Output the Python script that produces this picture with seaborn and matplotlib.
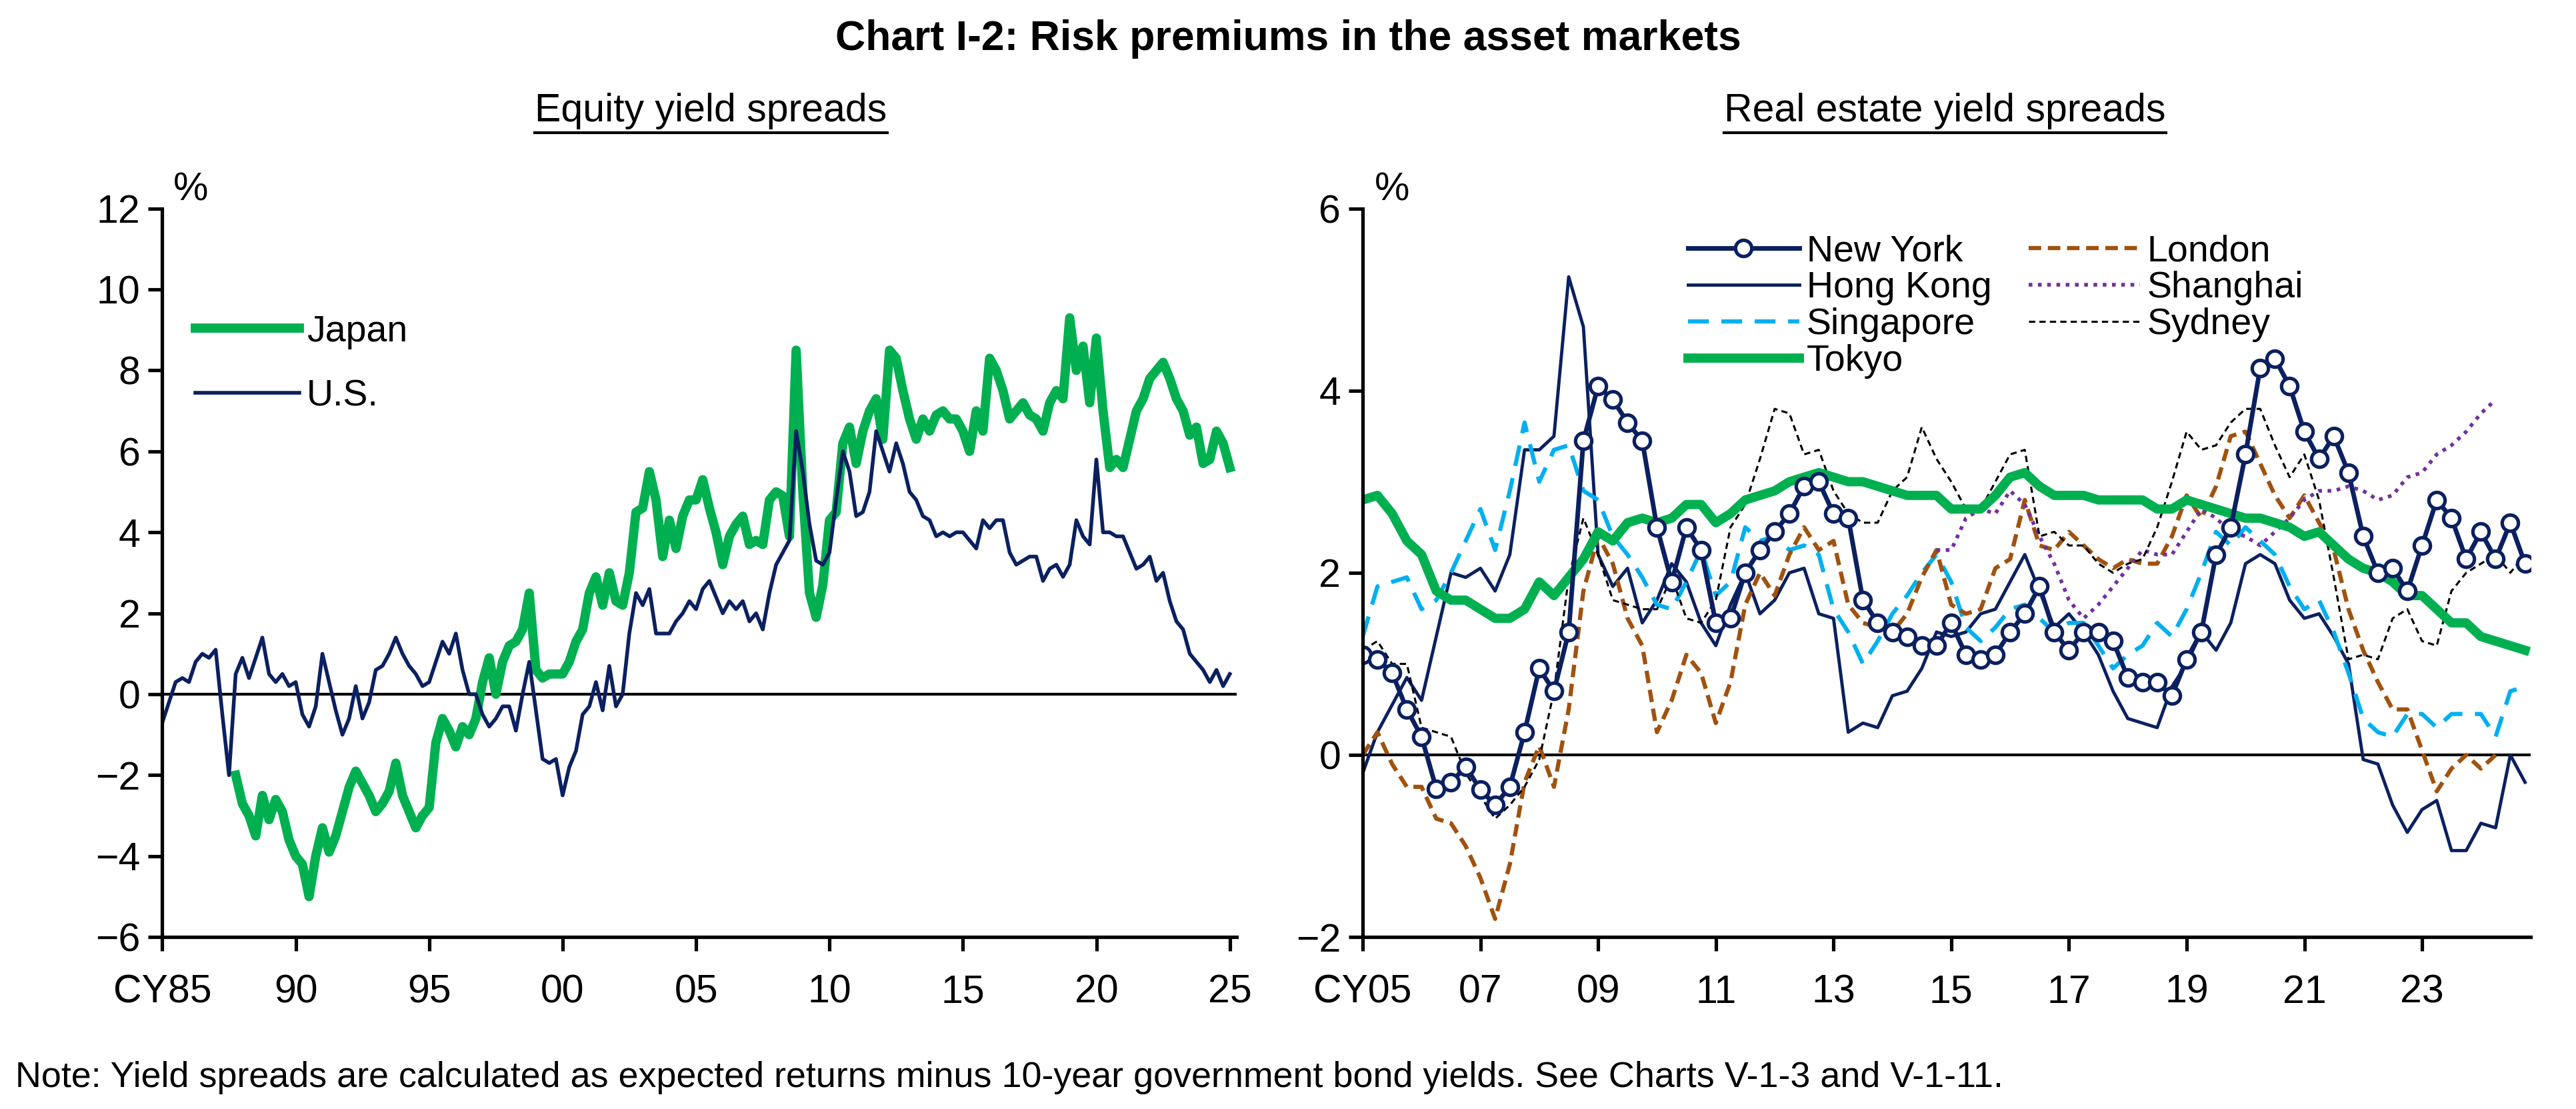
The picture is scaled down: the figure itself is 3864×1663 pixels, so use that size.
import numpy as np
import pandas as pd
import seaborn as sns
import matplotlib.pyplot as plt
from matplotlib.lines import Line2D

plt.rcParams['font.family'] = 'Liberation Sans'
nan = np.nan

# ---- Equity yield spreads (quarterly, CY1985Q1 .. CY2025Q1) ----
eq_dates = np.arange(1985.0, 2025.01, 0.25)
japan = [
    nan, nan, nan, nan, nan, nan, nan, nan, nan, nan, nan, -2.0,
    -2.7, -3.0, -3.5, -2.5, -3.1, -2.6, -2.9, -3.6, -4.0, -4.2, -5.0, -4.0,
    -3.3, -3.9, -3.5, -2.9, -2.3, -1.9, -2.2, -2.5, -2.9, -2.7, -2.4, -1.7,
    -2.5, -2.9, -3.3, -3.0, -2.8, -1.2, -0.6, -0.9, -1.3, -0.8, -1.0, -0.6,
    0.3, 0.9, 0.0, 0.8, 1.2, 1.3, 1.6, 2.5, 0.6, 0.4, 0.5, 0.5,
    0.5, 0.8, 1.3, 1.6, 2.5, 2.9, 2.2, 3.0, 2.3, 2.2, 3.0, 4.5,
    4.6, 5.5, 4.8, 3.4, 4.3, 3.6, 4.4, 4.8, 4.8, 5.3, 4.6, 4.0,
    3.2, 3.9, 4.2, 4.4, 3.7, 3.8, 3.7, 4.8, 5.0, 4.9, 3.9, 8.5,
    5.0, 2.5, 1.9, 2.7, 4.3, 4.5, 6.2, 6.6, 5.7, 6.5, 7.0, 7.3,
    6.3, 8.5, 8.3, 7.5, 6.8, 6.3, 6.8, 6.5, 6.9, 7.0, 6.8, 6.8,
    6.5, 6.0, 7.0, 6.5, 8.3, 8.0, 7.5, 6.8, 7.0, 7.2, 6.9, 6.8,
    6.5, 7.2, 7.5, 7.3, 9.3, 8.0, 8.6, 7.2, 8.8, 7.0, 5.6, 5.8,
    5.6, 6.3, 7.0, 7.3, 7.8, 8.0, 8.2, 7.8, 7.3, 7.0, 6.4, 6.6,
    5.7, 5.8, 6.5, 6.2, 5.6,
]
us = [
    -0.7, -0.2, 0.3, 0.4, 0.3, 0.8, 1.0, 0.9, 1.1, -0.5, -2.0, 0.5,
    0.9, 0.4, 0.9, 1.4, 0.5, 0.3, 0.5, 0.2, 0.3, -0.5, -0.8, -0.3,
    1.0, 0.3, -0.4, -1.0, -0.6, 0.2, -0.6, -0.2, 0.6, 0.7, 1.0, 1.4,
    1.0, 0.7, 0.5, 0.2, 0.3, 0.8, 1.3, 1.0, 1.5, 0.6, 0.0, 0.0,
    -0.5, -0.8, -0.6, -0.3, -0.3, -0.9, 0.0, 0.8, -0.4, -1.6, -1.7, -1.6,
    -2.5, -1.8, -1.4, -0.5, -0.3, 0.3, -0.4, 0.7, -0.3, 0.0, 1.5, 2.5,
    2.2, 2.6, 1.5, 1.5, 1.5, 1.8, 2.0, 2.3, 2.1, 2.6, 2.8, 2.4,
    2.0, 2.3, 2.1, 2.3, 1.8, 2.0, 1.6, 2.5, 3.2, 3.5, 3.8, 6.5,
    5.5, 4.2, 3.3, 3.2, 3.5, 4.8, 6.0, 5.5, 4.4, 4.5, 5.0, 6.5,
    6.0, 5.5, 6.2, 5.7, 5.0, 4.8, 4.4, 4.3, 3.9, 4.0, 3.9, 4.0,
    4.0, 3.8, 3.6, 4.3, 4.1, 4.3, 4.3, 3.5, 3.2, 3.3, 3.4, 3.4,
    2.8, 3.1, 3.2, 2.9, 3.2, 4.3, 3.9, 3.7, 5.8, 4.0, 4.0, 3.9,
    3.9, 3.5, 3.1, 3.2, 3.4, 2.8, 3.0, 2.3, 1.8, 1.6, 1.0, 0.8,
    0.6, 0.3, 0.6, 0.2, 0.5,
]
eq_ticks = [1985, 1990, 1995, 2000, 2005, 2010, 2015, 2020, 2025]
eq_ticklabels = ['CY85', '90', '95', '00', '05', '10', '15', '20', '25']

# ---- Real estate yield spreads (quarterly, CY2005Q1 .. CY2024Q4) ----
re_dates = np.arange(2005.0, 2024.76, 0.25)
new_york = [
    1.1, 1.05, 0.9, 0.5, 0.2, -0.37, -0.3, -0.13, -0.38, -0.55, -0.35, 0.25,
    0.95, 0.7, 1.35, 3.45, 4.05, 3.9, 3.65, 3.45, 2.5, 1.9, 2.5, 2.25,
    1.45, 1.5, 2.0, 2.25, 2.45, 2.65, 2.95, 3.0, 2.65, 2.6, 1.7, 1.45,
    1.35, 1.3, 1.2, 1.2, 1.45, 1.1, 1.05, 1.1, 1.35, 1.55, 1.85, 1.35,
    1.15, 1.35, 1.35, 1.25, 0.85, 0.8, 0.8, 0.65, 1.05, 1.35, 2.2, 2.5,
    3.3, 4.25, 4.35, 4.05, 3.55, 3.25, 3.5, 3.1, 2.4, 2.0, 2.05, 1.8,
    2.3, 2.8, 2.6, 2.15, 2.45, 2.15, 2.55, 2.1,
]
hong_kong = [
    -0.2, 0.25, 0.55, 0.85, 0.6, 1.3, 2.0, 1.95, 2.05, 1.8, 2.2, 3.35,
    3.35, 3.5, 5.25, 4.7, 2.2, 1.85, 2.05, 1.45, 1.7, 2.1, 1.9, 1.45,
    1.2, 1.65, 2.0, 1.55, 1.7, 2.0, 2.05, 1.55, 1.5, 0.25, 0.35, 0.3,
    0.65, 0.7, 0.95, 1.35, 1.3, 1.35, 1.55, 1.6, 1.9, 2.2, 1.8, 1.4,
    1.55, 1.35, 1.1, 0.7, 0.4, 0.35, 0.3, 0.75, 1.0, 1.35, 1.15, 1.45,
    2.1, 2.2, 2.1, 1.7, 1.5, 1.55, 1.3, 1.0, -0.05, -0.1, -0.55, -0.85,
    -0.6, -0.5, -1.05, -1.05, -0.75, -0.8, 0.0, -0.3,
]
singapore = [
    1.3, 1.85, 1.9, 1.95, 1.6, 1.7, 2.0, 2.35, 2.7, 2.25, 2.9, 3.65,
    3.0, 3.35, 3.4, 2.9, 2.8, 2.4, 2.2, 1.95, 1.65, 1.6, 1.9, 2.25,
    1.75, 1.9, 2.5, 2.35, 2.4, 2.25, 2.3, 2.2, 1.6, 1.35, 1.0, 1.25,
    1.55, 1.75, 2.0, 2.2, 1.9, 1.4, 1.25, 1.4, 1.6, 1.65, 1.5, 1.35,
    1.45, 1.45, 1.2, 0.95, 1.1, 1.2, 1.45, 1.3, 1.6, 2.0, 2.45, 2.3,
    2.5, 2.35, 2.2, 1.85, 1.6, 1.7, 1.35, 0.9, 0.4, 0.25, 0.2, 0.45,
    0.45, 0.3, 0.45, 0.45, 0.45, 0.2, 0.7, 0.75,
]
london = [
    0.0, 0.25, -0.1, -0.35, -0.35, -0.7, -0.75, -1.0, -1.35, -1.8, -1.2, -0.3,
    0.1, -0.35, 0.5, 1.8, 2.4, 2.1, 1.5, 1.2, 0.25, 0.6, 1.1, 0.9,
    0.35, 0.8, 1.65, 2.0, 1.75, 2.2, 2.5, 2.25, 2.35, 1.65, 1.45, 1.4,
    1.35, 1.55, 1.95, 2.25, 1.65, 1.55, 1.6, 2.05, 2.15, 2.8, 2.3, 2.25,
    2.45, 2.3, 2.15, 2.05, 2.15, 2.1, 2.1, 2.4, 2.85, 2.6, 2.95, 3.5,
    3.55, 3.2, 2.85, 2.6, 2.85, 2.55, 2.25, 1.6, 1.15, 0.8, 0.5, 0.5,
    0.05, -0.4, -0.15, 0.0, -0.15, 0.0,
]
shanghai = [nan] * 39 + [
    2.25, 2.25, 2.6, 2.7, 2.65, 2.9, 2.75, 2.4, 2.1, 1.7, 1.5, 1.65,
    1.85, 2.05, 2.25, 2.2, 2.2, 2.45, 2.7, 2.6, 2.45, 2.4, 2.3, 2.45,
    2.6, 2.8, 2.9, 2.9, 2.95, 2.9, 2.8, 2.85, 3.05, 3.1, 3.3, 3.4,
    3.55, 3.75, 3.9,
]
sydney = [
    1.15, 1.25, 1.0, 1.0, 0.3, 0.25, 0.2, -0.2, -0.45, -0.7, -0.55, -0.35,
    -0.05, 0.7, 1.95, 2.6, 2.2, 1.7, 1.65, 1.6, 1.6, 1.95, 1.5, 1.45,
    1.7, 2.5, 2.75, 3.25, 3.8, 3.75, 3.3, 3.35, 2.9, 2.65, 2.55, 2.55,
    2.9, 3.05, 3.6, 3.25, 3.0, 2.7, 2.7, 3.0, 3.3, 3.35, 2.4, 2.45,
    2.3, 2.3, 2.1, 2.0, 2.1, 2.15, 2.5, 3.0, 3.55, 3.35, 3.4, 3.65,
    3.8, 3.8, 3.4, 3.05, 3.3, 2.8, 1.95, 1.05, 1.1, 1.05, 1.5, 1.6,
    1.25, 1.2, 1.8, 2.0, 2.1, 2.2, 2.0, 2.2,
]
tokyo = [
    2.8, 2.85, 2.65, 2.35, 2.2, 1.8, 1.7, 1.7, 1.6, 1.5, 1.5, 1.6,
    1.9, 1.75, 1.95, 2.15, 2.45, 2.35, 2.55, 2.6, 2.55, 2.6, 2.75, 2.75,
    2.55, 2.65, 2.8, 2.85, 2.9, 3.0, 3.05, 3.1, 3.05, 3.0, 3.0, 2.95,
    2.9, 2.85, 2.85, 2.85, 2.7, 2.7, 2.7, 2.85, 3.05, 3.1, 2.95, 2.85,
    2.85, 2.85, 2.8, 2.8, 2.8, 2.8, 2.7, 2.7, 2.8, 2.75, 2.7, 2.65,
    2.6, 2.6, 2.55, 2.5, 2.4, 2.45, 2.3, 2.15, 2.05, 2.0, 1.9, 1.75,
    1.75, 1.6, 1.45, 1.45, 1.3, 1.25, 1.2, 1.15,
]
re_ticks = list(range(2005, 2025, 2))
re_ticklabels = ['CY05', '07', '09', '11', '13', '15', '17', '19', '21', '23']

NAVY = '#0b2060'
GREEN = '#00b050'


def fit(vals, n):
    # pad/trim a series to the length of its date axis (missing quarters -> NaN)
    vals = list(vals)[:n]
    return vals + [nan] * (n - len(vals))


n_eq, n_re = len(eq_dates), len(re_dates)
eq = pd.DataFrame({'date': eq_dates, 'Japan': fit(japan, n_eq), 'U.S.': fit(us, n_eq)})
re = pd.DataFrame({'date': re_dates})
for name, vals in [('New York', new_york), ('Hong Kong', hong_kong), ('Singapore', singapore),
                   ('London', london), ('Shanghai', shanghai), ('Sydney', sydney),
                   ('Tokyo', tokyo)]:
    re[name] = fit(vals, n_re)

fig = plt.figure(figsize=(15.456, 6.652), dpi=250)
ax1 = fig.add_axes([0.063, 0.155, 0.417, 0.657])
ax2 = fig.add_axes([0.529, 0.155, 0.4535, 0.657])

# Left: equity
sns.lineplot(data=eq, x='date', y='Japan', ax=ax1, color=GREEN, lw=4, label='Japan')
sns.lineplot(data=eq, x='date', y='U.S.', ax=ax1, color=NAVY, lw=1.6, label='U.S.')
ax1.axhline(0, color='black', lw=1.2, zorder=1)
ax1.set_xlim(1985, 2025.25)
ax1.set_ylim(-6, 12)
ax1.set_yticks(range(-6, 13, 2))
ax1.set_xticks(eq_ticks)
ax1.set_xticklabels(eq_ticklabels)
ax1.legend(loc='upper left', bbox_to_anchor=(0.0, 0.9), frameon=False, fontsize=16,
           handlelength=2.8, labelspacing=0.8, handletextpad=0.2)

# Right: real estate
sns.lineplot(data=re, x='date', y='Hong Kong', ax=ax2, color=NAVY, lw=1.4, label='Hong Kong')
sns.lineplot(data=re, x='date', y='Singapore', ax=ax2, color='#00b0f0', lw=1.8, ls=(0, (5, 3)), label='Singapore')
sns.lineplot(data=re, x='date', y='London', ax=ax2, color='#a0520f', lw=1.8, ls=(0, (3, 1.6)), label='London')
sns.lineplot(data=re, x='date', y='Shanghai', ax=ax2, color='#7030a0', lw=1.6, ls=(0, (1, 1.5)), label='Shanghai')
sns.lineplot(data=re, x='date', y='Sydney', ax=ax2, color='black', lw=0.9, ls=(0, (3, 2)), label='Sydney')
sns.lineplot(data=re, x='date', y='Tokyo', ax=ax2, color=GREEN, lw=4, label='Tokyo')
sns.lineplot(data=re, x='date', y='New York', ax=ax2, color=NAVY, lw=2, marker='o', ms=7,
             mfc='white', mec=NAVY, mew=1.5, label='New York')
ax2.axhline(0, color='black', lw=1.2, zorder=1)
ax2.set_xlim(2005, 2024.85)
ax2.set_ylim(-2, 6)
ax2.set_yticks(range(-2, 7, 2))
ax2.set_xticks(re_ticks)
ax2.set_xticklabels(re_ticklabels)
h, l = ax2.get_legend_handles_labels()
order = ['New York', 'Hong Kong', 'Singapore', 'Tokyo', 'London', 'Shanghai', 'Sydney']
hd = dict(zip(l, h))
ax2.legend([hd[k] for k in order], order, ncol=2, loc='upper left', bbox_to_anchor=(0.25, 1.01),
           frameon=False, fontsize=16, handlelength=3.0, labelspacing=0.05, handletextpad=0.2,
           columnspacing=1.0)

for ax in (ax1, ax2):
    sns.despine(ax=ax)
    ax.set_xlabel('')
    ax.set_ylabel('')
    ax.spines['left'].set_linewidth(1.5)
    ax.spines['bottom'].set_linewidth(1.5)
    ax.tick_params(axis='both', labelsize=17, width=1.5, length=6, direction='out')
    ax.tick_params(axis='x', pad=10)
    ax.text(0.01, 1.0, '%', transform=ax.transAxes, fontsize=17, va='bottom', ha='left')

fig.text(0.5, 0.965, 'Chart I-2: Risk premiums in the asset markets', ha='center', va='center',
         fontsize=18, fontweight='bold')
subs = [fig.text(0.276, 0.9, 'Equity yield spreads', ha='center', va='center', fontsize=17),
        fig.text(0.755, 0.9, 'Real estate yield spreads', ha='center', va='center', fontsize=17)]
fig.text(0.006, 0.028, 'Note: Yield spreads are calculated as expected returns minus 10-year government '
         'bond yields. See Charts V-1-3 and V-1-11.', ha='left', va='center', fontsize=15.5)

# underline the panel subtitles
fig.canvas.draw()
r = fig.canvas.get_renderer()
for t in subs:
    bb = t.get_window_extent(r).transformed(fig.transFigure.inverted())
    fig.add_artist(Line2D([bb.x0, bb.x1], [bb.y0 - 0.003, bb.y0 - 0.003], color='black', lw=1.2,
                          transform=fig.transFigure))

fig.savefig('out.png', dpi=250)
